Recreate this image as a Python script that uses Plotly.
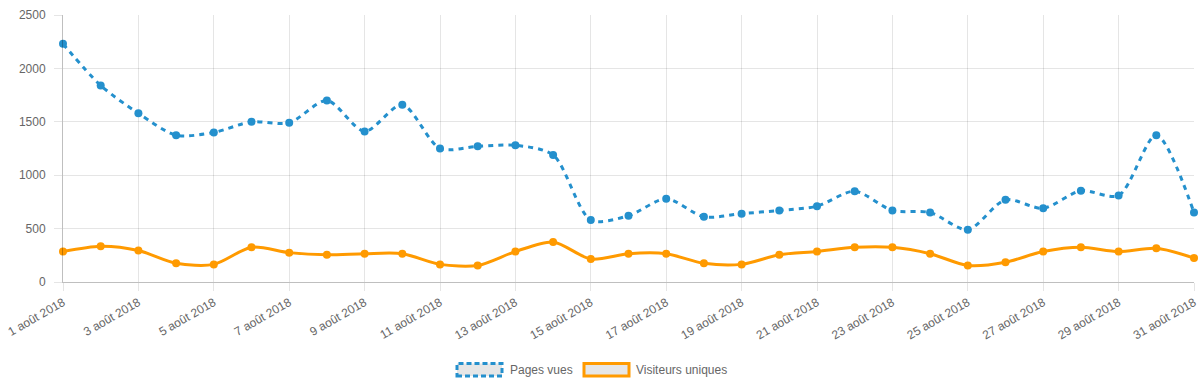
import plotly.graph_objects as go

days = [f"{d} août 2018" for d in range(1, 32)]
pages_vues = [2230, 1840, 1580, 1375, 1400, 1500, 1490, 1700, 1410, 1660,
              1250, 1270, 1280, 1190, 580, 620, 780, 610, 640, 670,
              710, 850, 670, 650, 490, 770, 690, 855, 810, 1375, 650]
visiteurs = [285, 335, 295, 175, 165, 325, 275, 255, 265, 265,
             165, 155, 285, 375, 215, 265, 265, 175, 165, 255,
             285, 325, 325, 265, 155, 185, 285, 325, 285, 315, 225]
y_ticks = [0, 500, 1000, 1500, 2000, 2500]
series_names = ["Pages vues", "Visiteurs uniques"]

BLUE = "#2490cd"
ORANGE = "#ff9a00"
FONT = "Liberation Sans, Arial, Helvetica, sans-serif"

W, H = 1200, 382
L, R, T, B = 63, 6, 15, 100
PW, PH = W - L - R, H - T - B


def px_to_paper(px, py):
    return (px - L) / PW, (H - B - py) / PH


x_idx = list(range(len(days)))

fig = go.Figure()
fig.add_trace(go.Scatter(
    x=x_idx, y=pages_vues, mode="lines+markers", name=series_names[0],
    line=dict(color=BLUE, width=3, dash="5px,5px", shape="spline", smoothing=0.8),
    marker=dict(color=BLUE, size=8), cliponaxis=False, showlegend=False))
fig.add_trace(go.Scatter(
    x=x_idx, y=visiteurs, mode="lines+markers", name=series_names[1],
    line=dict(color=ORANGE, width=3, shape="spline", smoothing=0.8),
    marker=dict(color=ORANGE, size=8), cliponaxis=False, showlegend=False))

# Chart.js-style legend: boxes + labels
legend_items = [
    (457, 502, 508, series_names[0], BLUE, "5px,3px"),
    (584, 629, 634, series_names[1], ORANGE, "solid"),
]
for bx0, bx1, tx, label, color, dash in legend_items:
    x0, y0 = px_to_paper(bx0, 376)
    x1, y1 = px_to_paper(bx1, 363.5)
    fig.add_shape(type="rect", xref="paper", yref="paper", x0=x0, y0=y0, x1=x1, y1=y1,
                  fillcolor="#e6e6e6",
                  line=dict(color=color, width=3, dash=dash))
    ax, ay = px_to_paper(tx, 369.5)
    fig.add_annotation(xref="paper", yref="paper", x=ax, y=ay, text=label,
                       showarrow=False, xanchor="left", yanchor="middle",
                       font=dict(family=FONT, size=12, color="#666666"))

fig.update_layout(
    width=W, height=H,
    margin=dict(l=L, r=R, t=T, b=B, autoexpand=False),
    paper_bgcolor="white", plot_bgcolor="white",
    font=dict(family=FONT, size=12, color="#666666"),
    showlegend=False,
    xaxis=dict(
        range=[0, len(days) - 1],
        tickvals=x_idx[::2], ticktext=days[::2], tickangle=-30,
        showgrid=True, gridcolor="rgba(0,0,0,0.1)", gridwidth=1,
        ticks="outside", ticklen=8, tickcolor="rgba(0,0,0,0.1)",
        showline=True, linecolor="rgba(0,0,0,0.25)", linewidth=1,
        zeroline=False, automargin=False,
        tickfont=dict(family=FONT, size=12, color="#666666")),
    yaxis=dict(
        range=[0, 2500], tickvals=y_ticks,
        showgrid=True, gridcolor="rgba(0,0,0,0.1)", gridwidth=1,
        ticks="outside", ticklen=8, tickcolor="rgba(0,0,0,0.1)",
        ticklabelstandoff=6,
        showline=True, linecolor="rgba(0,0,0,0.25)", linewidth=1,
        zeroline=False, automargin=False,
        tickfont=dict(family=FONT, size=12, color="#666666")),
)

fig.write_html("out.html",
               config={"displayModeBar": False},
               post_script="document.body.style.margin='0';document.body.style.overflow='hidden';")
